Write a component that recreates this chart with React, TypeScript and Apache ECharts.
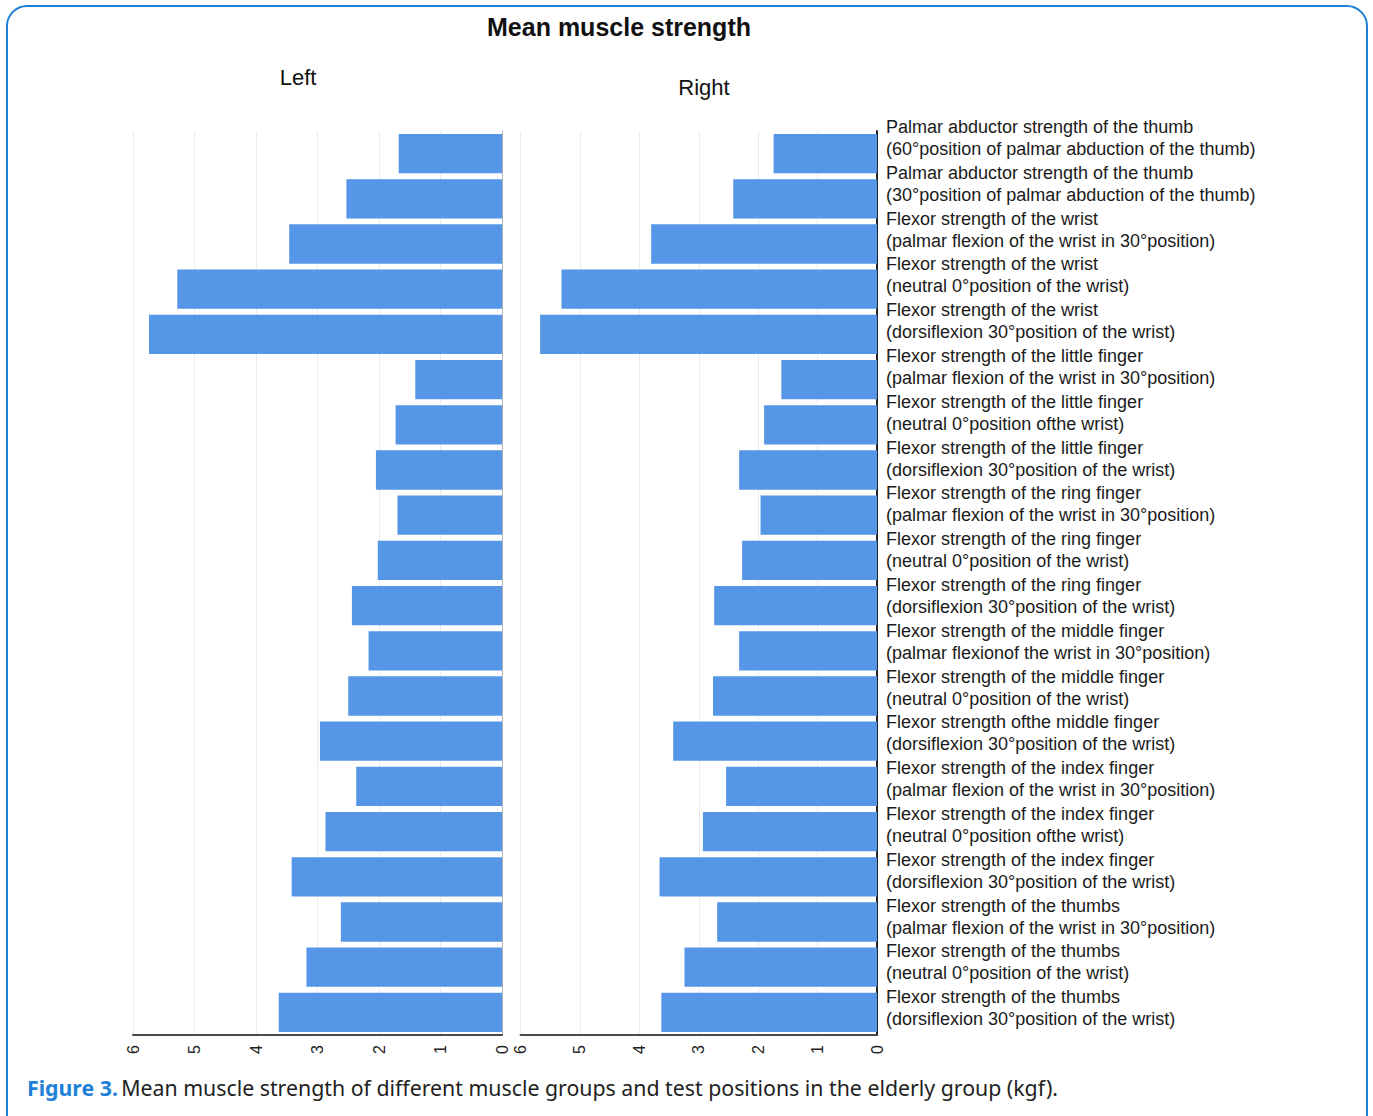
import React, { useEffect, useRef } from "react";
import * as echarts from "echarts";

const categories: string[] = [
  "Palmar abductor strength of the thumb\n(60°position of palmar abduction of the thumb)",
  "Palmar abductor strength of the thumb\n(30°position of palmar abduction of the thumb)",
  "Flexor strength of the wrist\n(palmar flexion of the wrist in 30°position)",
  "Flexor strength of the wrist\n(neutral 0°position of the wrist)",
  "Flexor strength of the wrist\n(dorsiflexion 30°position of the wrist)",
  "Flexor strength of the little finger\n(palmar flexion of the wrist in 30°position)",
  "Flexor strength of the little finger\n(neutral 0°position ofthe wrist)",
  "Flexor strength of the little finger\n(dorsiflexion 30°position of the wrist)",
  "Flexor strength of the ring finger\n(palmar flexion of the wrist in 30°position)",
  "Flexor strength of the ring finger\n(neutral 0°position of the wrist)",
  "Flexor strength of the ring finger\n(dorsiflexion 30°position of the wrist)",
  "Flexor strength of the middle finger\n(palmar flexionof the wrist in 30°position)",
  "Flexor strength of the middle finger\n(neutral 0°position of the wrist)",
  "Flexor strength ofthe middle finger\n(dorsiflexion 30°position of the wrist)",
  "Flexor strength of the index finger\n(palmar flexion of the wrist in 30°position)",
  "Flexor strength of the index finger\n(neutral 0°position ofthe wrist)",
  "Flexor strength of the index finger\n(dorsiflexion 30°position of the wrist)",
  "Flexor strength of the thumbs\n(palmar flexion of the wrist in 30°position)",
  "Flexor strength of the thumbs\n(neutral 0°position of the wrist)",
  "Flexor strength of the thumbs\n(dorsiflexion 30°position of the wrist)",
];

const leftValues: number[] = [
  1.68, 2.53, 3.46, 5.28, 5.74, 1.41, 1.73, 2.05, 1.7, 2.02,
  2.44, 2.17, 2.5, 2.96, 2.37, 2.87, 3.42, 2.62, 3.18, 3.63,
];

const rightValues: number[] = [
  1.74, 2.42, 3.8, 5.31, 5.67, 1.61, 1.9, 2.32, 1.96, 2.27,
  2.74, 2.32, 2.76, 3.43, 2.54, 2.93, 3.66, 2.69, 3.24, 3.63,
];

const axisMin = 0;
const axisMax = 6;
const axisInterval = 1;

const chartTitle = "Mean muscle strength";
const leftTitle = "Left";
const rightTitle = "Right";
const captionLead = "Figure 3.";
const captionText =
  "Mean muscle strength of different muscle groups and test positions in the elderly group (kgf).";

const FONT = "Liberation Sans";
const BAR_COLOR = "#5596e6";

export default function App() {
  const ref = useRef<HTMLDivElement>(null);

  useEffect(() => {
    document.body.style.margin = "0";
    if (!ref.current) return;
    const chart = echarts.init(ref.current, null, { renderer: "svg" });

    const valueAxis = (gridIndex: number) => ({
      type: "value" as const,
      gridIndex,
      min: axisMin,
      max: axisMax,
      interval: axisInterval,
      inverse: true,
      position: "bottom" as const,
      axisLine: { show: true, lineStyle: { color: "#4a4a4a", width: 2 } },
      axisTick: { show: false },
      splitLine: { show: true, lineStyle: { color: "#ebebeb", width: 1 } },
      axisLabel: {
        rotate: 90,
        fontSize: 16,
        color: "#222",
        fontFamily: FONT,
        margin: 10,
      },
    });

    chart.setOption({
      animation: false,
      backgroundColor: "#ffffff",
      grid: [
        { left: 133, right: 871, top: 131, bottom: 81, containLabel: false },
        { left: 520.5, right: 496, top: 131, bottom: 81, containLabel: false },
        { left: 520.5, right: 496, top: 115, bottom: 85, containLabel: false },
      ],
      xAxis: [
        valueAxis(0),
        valueAxis(1),
        { type: "value", gridIndex: 2, min: axisMin, max: axisMax, show: false },
      ],
      yAxis: [
        {
          type: "category",
          gridIndex: 0,
          data: categories,
          inverse: true,
          position: "right",
          axisLine: { show: true, lineStyle: { color: "#b5b5b5", width: 1 } },
          axisTick: { show: false },
          axisLabel: { show: false },
          splitLine: { show: false },
        },
        {
          type: "category",
          gridIndex: 1,
          data: categories,
          inverse: true,
          position: "right",
          axisLine: { show: true, lineStyle: { color: "#222", width: 2 } },
          axisTick: { show: false },
          splitLine: { show: false },
          axisLabel: { show: false },
        },
        {
          type: "category",
          gridIndex: 2,
          data: categories,
          inverse: true,
          position: "right",
          axisLine: { show: false },
          axisTick: { show: false },
          splitLine: { show: false },
          axisLabel: {
            show: true,
            interval: 0,
            margin: 9,
            align: "left",
            fontSize: 18,
            lineHeight: 22,
            color: "#1a1a1a",
            fontFamily: FONT,
          },
        },
      ],
      series: [
        {
          type: "bar",
          xAxisIndex: 0,
          yAxisIndex: 0,
          data: leftValues,
          barCategoryGap: "13%",
          itemStyle: { color: BAR_COLOR },
          silent: true,
        },
        {
          type: "bar",
          xAxisIndex: 1,
          yAxisIndex: 1,
          data: rightValues,
          barCategoryGap: "13%",
          itemStyle: { color: BAR_COLOR },
          silent: true,
        },
      ],
      graphic: [
        {
          type: "rect",
          z: -10,
          shape: { x: 7, y: 6, width: 1360, height: 1135, r: 20 },
          style: { fill: "none", stroke: "#1e80d6", lineWidth: 2 },
        },
        {
          type: "text",
          x: 619,
          y: 27,
          style: {
            text: chartTitle,
            fontFamily: FONT,
            fontSize: 25,
            fontWeight: "bold",
            fill: "#111",
            textAlign: "center",
            textVerticalAlign: "middle",
          },
        },
        {
          type: "text",
          x: 298,
          y: 77,
          style: {
            text: leftTitle,
            fontFamily: FONT,
            fontSize: 22,
            fill: "#111",
            textAlign: "center",
            textVerticalAlign: "middle",
          },
        },
        {
          type: "text",
          x: 704,
          y: 87,
          style: {
            text: rightTitle,
            fontFamily: FONT,
            fontSize: 22,
            fill: "#111",
            textAlign: "center",
            textVerticalAlign: "middle",
          },
        },
        {
          type: "text",
          x: 27,
          y: 1087,
          style: {
            text: `{b|${captionLead}} {n|${captionText}}`,
            textVerticalAlign: "middle",
            rich: {
              b: {
                fontFamily: "Noto Sans",
                fontSize: 21.3,
                fontWeight: "bold",
                fill: "#1e80d6",
                color: "#1e80d6",
              },
              n: {
                fontFamily: "Noto Sans",
                fontSize: 21.3,
                fill: "#222",
                color: "#222",
              },
            },
          },
        },
      ],
    });

    return () => {
      chart.dispose();
    };
  }, []);

  return <div ref={ref} style={{ width: 1373, height: 1116 }} />;
}
